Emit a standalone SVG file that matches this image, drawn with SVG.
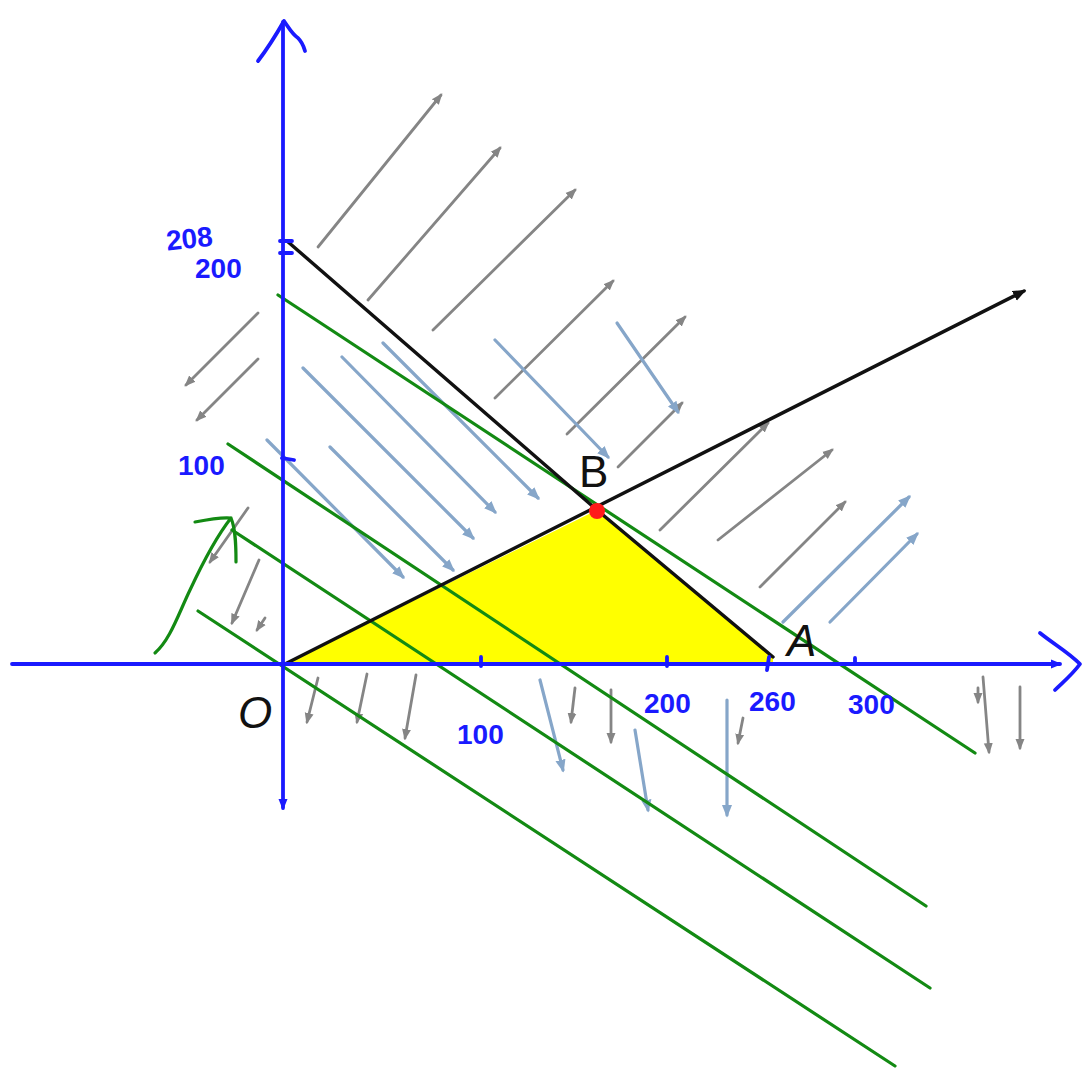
<svg xmlns="http://www.w3.org/2000/svg" width="1086" height="1077" viewBox="0 0 1086 1077">
<defs>
<marker id="ag" viewBox="0 0 10 10" refX="8" refY="5" markerWidth="4" markerHeight="4" orient="auto"><path d="M0,1 L10,5 L0,9 z" fill="#858585"/></marker>
<marker id="ab" viewBox="0 0 10 10" refX="8" refY="5" markerWidth="4" markerHeight="4" orient="auto"><path d="M0,1 L10,5 L0,9 z" fill="#86a6c9"/></marker>
<marker id="ak" viewBox="0 0 10 10" refX="8" refY="5" markerWidth="4" markerHeight="4" orient="auto"><path d="M0,1 L10,5 L0,9 z" fill="#111"/></marker>
<marker id="ax" viewBox="0 0 10 10" refX="8" refY="5" markerWidth="3" markerHeight="3" orient="auto"><path d="M0,1 L10,5 L0,9 z" fill="#1a1aff"/></marker>
</defs>
<style>
.g{stroke:#858585;stroke-width:2.8;fill:none;stroke-linecap:round;marker-end:url(#ag)}
.b{stroke:#86a6c9;stroke-width:3.2;fill:none;stroke-linecap:round;marker-end:url(#ab)}
.gr{stroke:#138a13;stroke-width:3.2;fill:none;stroke-linecap:round}
.k{stroke:#111;stroke-width:3.4;fill:none;stroke-linecap:round}
.ax{stroke:#1a1aff;stroke-width:3.8;fill:none;stroke-linecap:round;stroke-linejoin:round}
.lb{font-family:"Liberation Sans",Arial,sans-serif;fill:#1a1aff;font-size:28px;font-weight:bold}
.lk{font-family:"Liberation Sans",Arial,sans-serif;fill:#111;font-size:44px}
</style>
<rect width="1086" height="1077" fill="#fff"/>
<g id="region">
<polygon points="285,664 597,510 773,656 773,664" fill="#ffff00"/>
</g>
<g id="hatching">
<line class="g" x1="318" y1="247" x2="441" y2="95"/>
<line class="g" x1="368" y1="300" x2="500" y2="148"/>
<line class="g" x1="433" y1="330" x2="575" y2="190"/>
<line class="g" x1="495" y1="398" x2="613" y2="281"/>
<line class="g" x1="567" y1="434" x2="685" y2="317"/>
<line class="g" x1="618" y1="467" x2="682" y2="403"/>
<line class="g" x1="660" y1="530" x2="768" y2="423"/>
<line class="g" x1="718" y1="540" x2="832" y2="450"/>
<line class="g" x1="760" y1="587" x2="845" y2="502"/>
<line class="g" x1="258" y1="313" x2="186" y2="385"/>
<line class="g" x1="258" y1="359" x2="197" y2="420"/>
<line class="g" x1="248" y1="508" x2="210" y2="562"/>
<line class="g" x1="259" y1="560" x2="232" y2="623"/>
<line class="g" x1="265" y1="618" x2="257" y2="630"/>
<line class="g" x1="318" y1="678" x2="307" y2="722"/>
<line class="g" x1="367" y1="674" x2="357" y2="722"/>
<line class="g" x1="416" y1="675" x2="405" y2="738"/>
<line class="g" x1="575" y1="688" x2="571" y2="722"/>
<line class="g" x1="611" y1="690" x2="611" y2="742"/>
<line class="g" x1="743" y1="718" x2="738" y2="743"/>
<line class="g" x1="983" y1="677" x2="989" y2="752"/>
<line class="g" x1="978" y1="688" x2="978" y2="702"/>
<line class="g" x1="1020" y1="687" x2="1020" y2="748"/>
<line class="b" x1="383" y1="343" x2="538" y2="498"/>
<line class="b" x1="342" y1="357" x2="495" y2="512"/>
<line class="b" x1="303" y1="368" x2="473" y2="538"/>
<line class="b" x1="267" y1="440" x2="403" y2="577"/>
<line class="b" x1="330" y1="447" x2="453" y2="570"/>
<line class="b" x1="495" y1="340" x2="608" y2="457"/>
<line class="b" x1="617" y1="323" x2="678" y2="412"/>
<line class="b" x1="783" y1="622" x2="909" y2="497"/>
<line class="b" x1="830" y1="622" x2="917" y2="534"/>
<line class="b" x1="540" y1="680" x2="563" y2="770"/>
<line class="b" x1="635" y1="730" x2="648" y2="810"/>
<line class="b" x1="727" y1="700" x2="727" y2="815"/>
</g>
<g id="connectors">
<line class="gr" x1="278" y1="295" x2="975" y2="753"/>
<line class="gr" x1="228" y1="444" x2="926" y2="906"/>
<line class="gr" x1="232" y1="530" x2="930" y2="988"/>
<line class="gr" x1="198" y1="611" x2="895" y2="1066"/>
<path class="gr" d="M155,653 C170,640 178,615 190,590 C204,560 220,532 231,518 M195,522 C210,519 222,517 231,518 C236,530 236,548 236,562"/>
<polyline class="k" points="287,241 597,510 773,657"/>
<line class="k" x1="285" y1="664" x2="1024" y2="291" marker-end="url(#ak)"/>
</g>
<g id="axes">
<line class="ax" x1="12" y1="664" x2="1060" y2="664" marker-end="url(#ax)"/>
<path class="ax" d="M1040,633 C1055,645 1068,652 1080,664 C1072,675 1062,683 1055,690"/>
<line class="ax" x1="283" y1="22" x2="283" y2="808" marker-end="url(#ax)"/>
<path class="ax" d="M258,61 C268,48 276,35 284,21 C289,28 292,34 298,38 C303,43 304,48 305,51"/>
<path class="ax" d="M280,241 L292,241 M280,253 L292,253 M282,458 L294,460 M481,657 L481,666 M667,657 L667,666 M769,657 L767,670 M855,658 L855,664"/>
</g>
<g id="point-B"><circle cx="597" cy="511" r="8" fill="#ff1a1a"/></g>
<g id="labels">
<text class="lb" x="166" y="247" font-size="26" transform="rotate(-6 200 238)">208</text>
<text class="lb" x="195" y="278">200</text>
<text class="lb" x="178" y="475">100</text>
<text class="lb" x="457" y="744">100</text>
<text class="lb" x="644" y="713">200</text>
<text class="lb" x="749" y="711">260</text>
<text class="lb" x="848" y="714">300</text>
<text class="lk" x="238" y="728" font-style="italic">O</text>
<text class="lk" x="579" y="487">B</text>
<text class="lk" x="787" y="656" font-style="italic">A</text>
</g>
</svg>
